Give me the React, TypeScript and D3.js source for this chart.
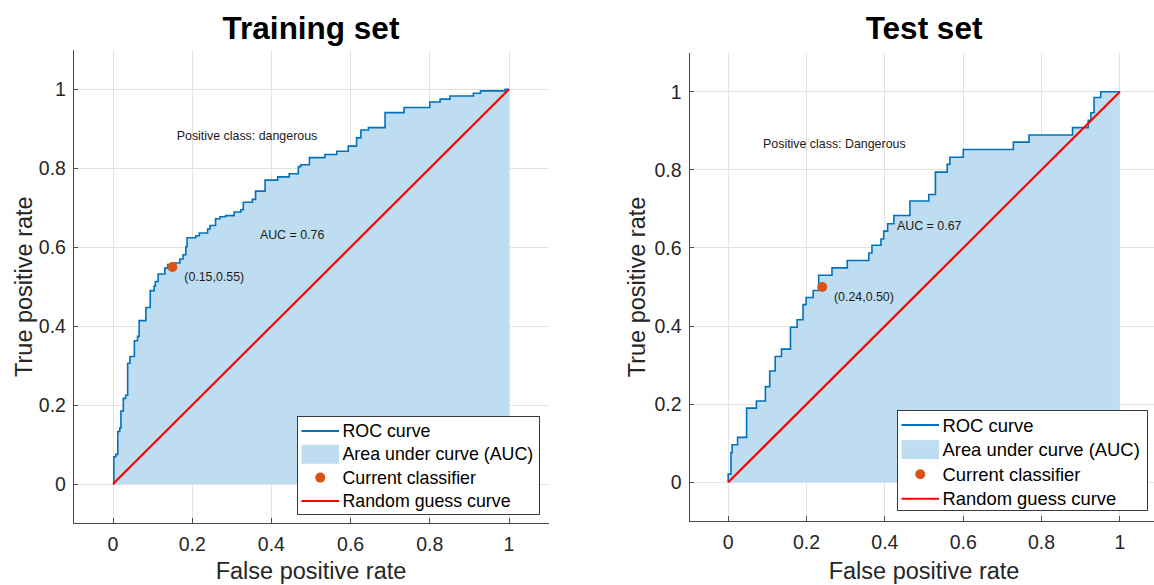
import React, { useEffect, useRef } from 'react';
import * as d3 from 'd3';

// ROC points: fpr where the curve steps up, tpr after the step
const trainFpr = [0, 0.002, 0.007, 0.012, 0.017, 0.020, 0.026, 0.032, 0.037, 0.043, 0.054, 0.062, 0.066, 0.083, 0.094,
  0.104, 0.107, 0.114, 0.131, 0.138, 0.150, 0.169, 0.177, 0.184, 0.187, 0.209, 0.218, 0.239, 0.245, 0.259, 0.270,
  0.284, 0.306, 0.323, 0.329, 0.352, 0.360, 0.384, 0.416, 0.445, 0.468, 0.474, 0.496, 0.535, 0.565, 0.594, 0.615,
  0.626, 0.645, 0.687, 0.735, 0.800, 0.826, 0.851, 0.910, 0.928, 0.990, 1.0];
const trainTpr = [0, 0.069, 0.075, 0.133, 0.142, 0.185, 0.217, 0.225, 0.306, 0.323, 0.363, 0.374, 0.414, 0.447, 0.490,
  0.502, 0.513, 0.532, 0.547, 0.556, 0.560, 0.570, 0.581, 0.601, 0.624, 0.629, 0.636, 0.646, 0.655, 0.672, 0.677,
  0.680, 0.689, 0.695, 0.714, 0.721, 0.742, 0.770, 0.778, 0.786, 0.804, 0.809, 0.827, 0.835, 0.843, 0.856, 0.877,
  0.897, 0.903, 0.941, 0.954, 0.968, 0.975, 0.983, 0.990, 0.996, 1.0, 1.0];

const testFpr = [0, 0, 0.007, 0.010, 0.024, 0.047, 0.072, 0.095, 0.106, 0.120, 0.136, 0.159, 0.176, 0.191, 0.199,
  0.217, 0.231, 0.265, 0.304, 0.359, 0.367, 0.390, 0.397, 0.407, 0.423, 0.464, 0.512, 0.529, 0.559, 0.566, 0.600,
  0.728, 0.768, 0.879, 0.919, 0.926, 0.934, 0.951, 1.0];
const testTpr = [0, 0.021, 0.076, 0.096, 0.115, 0.190, 0.208, 0.245, 0.285, 0.322, 0.341, 0.397, 0.416, 0.455, 0.473,
  0.491, 0.530, 0.549, 0.568, 0.587, 0.607, 0.623, 0.643, 0.662, 0.683, 0.720, 0.737, 0.794, 0.814, 0.832, 0.852,
  0.871, 0.889, 0.908, 0.927, 0.946, 0.985, 1.0, 1.0];

const trainPoint = [0.15, 0.55];
const testPoint = [0.24, 0.50];
const ticks = [0, 0.2, 0.4, 0.6, 0.8, 1];
const tickLabels = ['0', '0.2', '0.4', '0.6', '0.8', '1'];
const legendLabels = ['ROC curve', 'Area under curve (AUC)', 'Current classifier', 'Random guess curve'];

const FONT = '"Liberation Sans", Arial, Helvetica, sans-serif';
const BLUE = '#0072BD';
const FILL = 'rgb(191,221,240)';
const ORANGE = '#D95319';

const panels = [
  {
    title: 'Training set', fpr: trainFpr, tpr: trainTpr, point: trainPoint,
    posClass: 'Positive class: dangerous', auc: 'AUC = 0.76',
    x0: 113, x1: 509, y0: 484, y1: 89.3,
    posAt: [0.161, 0.881], aucAt: [0.371, 0.632],
    legend: { x: 297, y: 416, w: 242, h: 98, row0: 431, rowH: 23.3, font: 17.8 },
    yLabelX: 32
  },
  {
    title: 'Test set', fpr: testFpr, tpr: testTpr, point: testPoint,
    posClass: 'Positive class: Dangerous', auc: 'AUC = 0.67',
    x0: 728.2, x1: 1119.9, y0: 482.3, y1: 91.7,
    posAt: [0.089, 0.867], aucAt: [0.431, 0.655],
    legend: { x: 897, y: 410, w: 250, h: 100, row0: 425, rowH: 24.6, font: 18.4 },
    yLabelX: 645
  }
];

function drawPanel(svg: any, p: any) {
  const x = d3.scaleLinear().domain([0, 1]).range([p.x0, p.x1]);
  const y = d3.scaleLinear().domain([0, 1]).range([p.y0, p.y1]);
  const xa = x(-0.1), xb = x(1.1), ya = y(-0.1), yb = y(1.1);
  const g = svg.append('g');

  // grid
  g.selectAll('line.gx').data(ticks).enter().append('line')
    .attr('x1', (d: number) => x(d)).attr('x2', (d: number) => x(d))
    .attr('y1', ya).attr('y2', yb)
    .attr('stroke', '#e3e3e3').attr('shape-rendering', 'crispEdges');
  g.selectAll('line.gy').data(ticks).enter().append('line')
    .attr('y1', (d: number) => y(d)).attr('y2', (d: number) => y(d))
    .attr('x1', xa).attr('x2', xb)
    .attr('stroke', '#e3e3e3').attr('shape-rendering', 'crispEdges');

  const pts = p.fpr.map((f: number, i: number) => [f, p.tpr[i]]);
  const area = d3.area<any>().x(d => x(d[0])).y0(y(0)).y1(d => y(d[1])).curve(d3.curveStepAfter);
  const line = d3.line<any>().x(d => x(d[0])).y(d => y(d[1])).curve(d3.curveStepAfter);
  g.append('path').datum(pts).attr('d', area).attr('fill', FILL);

  // axes
  g.append('line').attr('x1', xa).attr('x2', xb).attr('y1', ya).attr('y2', ya)
    .attr('stroke', '#4a4a4a').attr('shape-rendering', 'crispEdges');
  g.append('line').attr('x1', xa).attr('x2', xa).attr('y1', ya).attr('y2', yb)
    .attr('stroke', '#4a4a4a').attr('shape-rendering', 'crispEdges');
  g.selectAll('line.tx').data(ticks).enter().append('line')
    .attr('x1', (d: number) => x(d)).attr('x2', (d: number) => x(d))
    .attr('y1', ya).attr('y2', ya - 5)
    .attr('stroke', '#4a4a4a').attr('shape-rendering', 'crispEdges');
  g.selectAll('line.ty').data(ticks).enter().append('line')
    .attr('y1', (d: number) => y(d)).attr('y2', (d: number) => y(d))
    .attr('x1', xa).attr('x2', xa + 5)
    .attr('stroke', '#4a4a4a').attr('shape-rendering', 'crispEdges');

  g.append('path').datum(pts).attr('d', line).attr('fill', 'none')
    .attr('stroke', BLUE).attr('stroke-width', 1.6);
  g.append('line').attr('x1', x(0)).attr('y1', y(0)).attr('x2', x(1)).attr('y2', y(1))
    .attr('stroke', '#ff0000').attr('stroke-width', 2.2);
  g.append('circle').attr('cx', x(p.point[0])).attr('cy', y(p.point[1])).attr('r', 5)
    .attr('fill', ORANGE);

  // tick labels
  g.selectAll('text.xt').data(ticks).enter().append('text')
    .attr('x', (d: number) => x(d)).attr('y', ya + 28)
    .attr('text-anchor', 'middle').attr('font-size', 19.5).attr('font-family', FONT)
    .attr('fill', '#262626').text((d: number, i: number) => tickLabels[i]);
  g.selectAll('text.yt').data(ticks).enter().append('text')
    .attr('x', xa - 7.5).attr('y', (d: number) => y(d) + 7)
    .attr('text-anchor', 'end').attr('font-size', 19.5).attr('font-family', FONT)
    .attr('fill', '#262626').text((d: number, i: number) => tickLabels[i]);

  // axis labels and title
  g.append('text').attr('x', (xa + xb) / 2).attr('y', 579)
    .attr('text-anchor', 'middle').attr('font-size', 23.5).attr('font-family', FONT)
    .attr('fill', '#262626').text('False positive rate');
  g.append('text').attr('transform', `translate(${p.yLabelX},${(ya + yb) / 2}) rotate(-90)`)
    .attr('text-anchor', 'middle').attr('font-size', 23.5).attr('font-family', FONT)
    .attr('fill', '#262626').text('True positive rate');
  g.append('text').attr('x', (xa + xb) / 2).attr('y', 39)
    .attr('text-anchor', 'middle').attr('font-size', 31.5).attr('font-weight', 'bold')
    .attr('font-family', FONT).attr('fill', '#000').text(p.title);

  // annotations
  const ann = [
    { t: p.posClass, at: p.posAt },
    { t: p.auc, at: p.aucAt },
    { t: `(${p.point[0].toFixed(2)},${p.point[1].toFixed(2)})`, at: [p.point[0] + 0.03, p.point[1] - 0.025] }
  ];
  g.selectAll('text.ann').data(ann).enter().append('text')
    .attr('x', (d: any) => x(d.at[0])).attr('y', (d: any) => y(d.at[1]))
    .attr('dominant-baseline', 'central').attr('font-size', 12.4).attr('font-family', FONT)
    .attr('fill', '#1a1a1a').text((d: any) => d.t);

  // legend
  const L = p.legend;
  const lg = g.append('g');
  lg.append('rect').attr('x', L.x + 0.5).attr('y', L.y + 0.5).attr('width', L.w).attr('height', L.h)
    .attr('fill', '#fff').attr('stroke', '#262626').attr('stroke-width', 0.9);
  const lx1 = L.x + 4.5, lx2 = L.x + 42;
  const ry = (i: number) => L.row0 + i * L.rowH;
  lg.append('line').attr('x1', lx1).attr('x2', lx2).attr('y1', ry(0)).attr('y2', ry(0))
    .attr('stroke', BLUE).attr('stroke-width', 2);
  lg.append('rect').attr('x', lx1).attr('y', ry(1) - 9.5).attr('width', lx2 - lx1).attr('height', 19)
    .attr('fill', FILL);
  lg.append('circle').attr('cx', (lx1 + lx2) / 2).attr('cy', ry(2)).attr('r', 5).attr('fill', ORANGE);
  lg.append('line').attr('x1', lx1).attr('x2', lx2).attr('y1', ry(3)).attr('y2', ry(3))
    .attr('stroke', '#ff0000').attr('stroke-width', 2);
  lg.selectAll('text').data(legendLabels).enter().append('text')
    .attr('x', L.x + 45.5).attr('y', (d: string, i: number) => ry(i))
    .attr('dominant-baseline', 'central').attr('font-size', L.font).attr('font-family', FONT)
    .attr('fill', '#000').text((d: string) => d);
}

export default function App() {
  const ref = useRef<SVGSVGElement>(null);
  useEffect(() => {
    const svg = d3.select(ref.current);
    svg.selectAll('*').remove();
    svg.append('rect').attr('width', 1154).attr('height', 585).attr('fill', '#fff');
    panels.forEach(p => drawPanel(svg, p));
  }, []);
  return (
    <svg ref={ref} width={1154} height={585}
      style={{ position: 'absolute', left: 0, top: 0, display: 'block' }} />
  );
}
